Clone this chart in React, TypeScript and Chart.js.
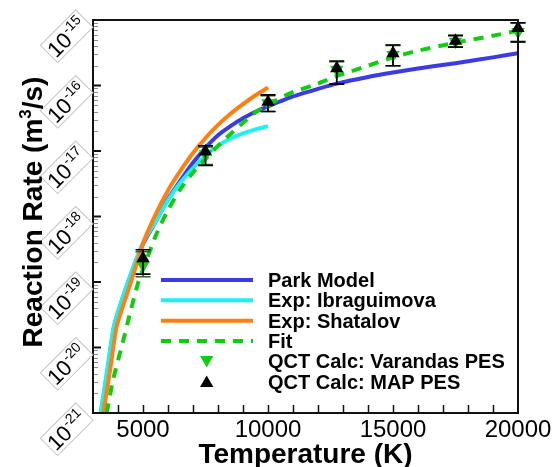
import React, { useEffect, useRef } from 'react';
import { Chart, registerables } from 'chart.js';

Chart.register(...registerables);

// ---------------- data ----------------
const parkT = [3320, 3620, 3850, 4400, 5000, 5500, 6000, 6500, 7000, 7500, 8000, 8500, 9000, 9500, 10000, 11000, 12000, 12750, 14000, 15000, 16000, 17500, 19000, 20000];
const parkK = [1.0e-21, 5.5e-21, 2.1e-20, 9.8e-20, 3.8e-19, 8.3e-19, 1.86e-18, 3.55e-18, 6.6e-18, 1.12e-17, 1.74e-17, 2.4e-17, 3.16e-17, 3.98e-17, 4.8e-17, 6.8e-17, 8.9e-17, 1.07e-16, 1.35e-16, 1.58e-16, 1.82e-16, 2.19e-16, 2.69e-16, 3.1e-16];

const ibraT = [3300, 3600, 3830, 4400, 5000, 5500, 6000, 6500, 7000, 7500, 8000, 8500, 9000, 9500, 10000];
const ibraK = [1.0e-21, 5.5e-21, 2.1e-20, 1.0e-19, 4.0e-19, 8.3e-19, 1.78e-18, 3.3e-18, 5.5e-18, 8.5e-18, 1.2e-17, 1.55e-17, 1.86e-17, 2.14e-17, 2.4e-17];

const shatT = [3413, 3700, 3947, 4500, 5013, 5500, 6000, 6500, 7000, 7500, 8000, 8500, 9000, 9500, 10000];
const shatK = [1.0e-21, 5.0e-21, 2.1e-20, 9.5e-20, 4.0e-19, 1.07e-18, 2.5e-18, 5.0e-18, 9.3e-18, 1.58e-17, 2.5e-17, 3.7e-17, 5.2e-17, 7.1e-17, 9.3e-17];

const fitT = [3547, 3800, 4213, 4500, 4813, 5000, 5547, 6000, 6500, 7000, 7500, 8000, 8500, 9000, 9500, 10000, 10880, 12000, 12880, 14000, 15000, 16000, 17500, 19000, 20000];
const fitK = [1.0e-21, 3.2e-21, 1.29e-20, 3.55e-20, 1.0e-19, 1.58e-19, 5.5e-19, 1.26e-18, 2.63e-18, 4.7e-18, 7.6e-18, 1.2e-17, 1.82e-17, 2.7e-17, 3.9e-17, 5.1e-17, 7.6e-17, 1.07e-16, 1.45e-16, 2.0e-16, 2.7e-16, 3.4e-16, 4.5e-16, 5.75e-16, 6.9e-16];

const qctT = [5000, 7500, 10000, 12750, 15000, 17500, 20000];
const varandasK = [1.8e-19, 9.0e-18, 5.4e-17, 1.75e-16, 2.95e-16, 4.7e-16, 6.6e-16];
const varandasLow = [1.2e-19, 6.2e-18, 4.0e-17, 1.05e-16, 2.0e-16, 3.9e-16, 4.6e-16];
const varandasHigh = [2.9e-19, 1.15e-17, 7.0e-17, 2.3e-16, 4.1e-16, 5.9e-16, 9.0e-16];
const mapK = [2.3e-19, 9.8e-18, 5.6e-17, 1.83e-16, 3.1e-16, 4.8e-16, 7.5e-16];
const mapLow = [1.32e-19, 6.0e-18, 4.0e-17, 1.05e-16, 2.0e-16, 3.83e-16, 4.67e-16];
const mapHigh = [3.1e-19, 1.2e-17, 7.2e-17, 2.37e-16, 4.15e-16, 5.75e-16, 9.1e-16];

const xTickValues = [5000, 10000, 15000, 20000];
const xTickLabels = ['5000', '10000', '15000', '20000'];
const yDecadeExponents = [-21, -20, -19, -18, -17, -16, -15];
const yTickExpLabels = ['-21', '-20', '-19', '-18', '-17', '-16', '-15'];

const seriesLabels = ['Park Model', 'Exp: Ibraguimova', 'Exp: Shatalov', 'Fit', 'QCT Calc: Varandas PES', 'QCT Calc: MAP PES'];

const FONT = "'Liberation Sans', Arial, Helvetica, sans-serif";

const zip = (xs: number[], ys: number[]) => xs.map((x, i) => ({ x, y: ys[i] }));

function drawTriangle(ctx: CanvasRenderingContext2D, x: number, y: number, r: number, down: boolean, color: string) {
  const s = down ? -1 : 1;
  ctx.beginPath();
  ctx.moveTo(x, y - s * r);
  ctx.lineTo(x + r * 0.866, y + s * r / 2);
  ctx.lineTo(x - r * 0.866, y + s * r / 2);
  ctx.closePath();
  ctx.fillStyle = color;
  ctx.fill();
}

const errorBarPlugin = {
  id: 'errorBars',
  afterDatasetDraw(chart: any, args: any) {
    const ds = chart.data.datasets[args.index];
    if (!ds.errLow) return;
    const ctx = chart.ctx as CanvasRenderingContext2D;
    const xs = chart.scales.x;
    const ys = chart.scales.y;
    ctx.save();
    ctx.strokeStyle = ds.errColor;
    ctx.lineWidth = 1.6;
    ds.data.forEach((p: any, i: number) => {
      const px = xs.getPixelForValue(p.x);
      const y1 = ys.getPixelForValue(ds.errHigh[i]);
      const y2 = ys.getPixelForValue(ds.errLow[i]);
      ctx.beginPath();
      ctx.moveTo(px, y1);
      ctx.lineTo(px, y2);
      ctx.moveTo(px - 7.5, y1);
      ctx.lineTo(px + 7.5, y1);
      ctx.moveTo(px - 7.5, y2);
      ctx.lineTo(px + 7.5, y2);
      ctx.stroke();
    });
    ctx.restore();
  },
};

const axesPlugin = {
  id: 'customAxes',
  afterDraw(chart: any) {
    const ctx = chart.ctx as CanvasRenderingContext2D;
    const { left, top, right, bottom } = chart.chartArea;
    const xs = chart.scales.x;
    const ys = chart.scales.y;
    ctx.save();

    // x ticks (inward)
    ctx.strokeStyle = '#111';
    ctx.lineWidth = 1.5;
    for (let t = xs.min + 1000; t < xs.max; t += 1000) {
      const px = Math.round(xs.getPixelForValue(t)) + 0.5;
      ctx.beginPath();
      ctx.moveTo(px, bottom);
      ctx.lineTo(px, bottom - 8);
      ctx.stroke();
    }
    // y ticks
    yDecadeExponents.forEach((e, idx) => {
      const py = ys.getPixelForValue(Math.pow(10, e));
      ctx.strokeStyle = '#111';
      ctx.lineWidth = 2;
      ctx.beginPath();
      ctx.moveTo(left, py);
      ctx.lineTo(left + 8, py);
      ctx.stroke();
      if (idx < yDecadeExponents.length - 1) {
        ctx.strokeStyle = '#8a8a8a';
        ctx.lineWidth = 1;
        for (let m = 2; m <= 9; m++) {
          const my = Math.round(ys.getPixelForValue(m * Math.pow(10, e))) + 0.5;
          ctx.beginPath();
          ctx.moveTo(left, my);
          ctx.lineTo(left + 5, my);
          ctx.stroke();
        }
      }
    });

    // frame
    ctx.strokeStyle = '#111';
    ctx.lineWidth = 2;
    ctx.strokeRect(left, top, right - left, bottom - top);

    // x tick labels
    ctx.fillStyle = '#000';
    ctx.font = `24px ${FONT}`;
    ctx.textAlign = 'center';
    ctx.textBaseline = 'alphabetic';
    xTickValues.forEach((v, i) => {
      ctx.fillText(xTickLabels[i], xs.getPixelForValue(v), bottom + 24);
    });

    // y tick labels (rotated, boxed)
    yDecadeExponents.forEach((e, i) => {
      const py = ys.getPixelForValue(Math.pow(10, e));
      ctx.save();
      ctx.translate(left - 26.3, py + 16.3);
      ctx.rotate(-Math.PI / 4);
      ctx.strokeStyle = '#c4c4c4';
      ctx.lineWidth = 1;
      ctx.strokeRect(-25, -12.25, 50, 24.5);
      ctx.fillStyle = '#000';
      ctx.textAlign = 'left';
      ctx.font = `22px ${FONT}`;
      const w1 = ctx.measureText('10').width;
      ctx.font = `14px ${FONT}`;
      const w2 = ctx.measureText(yTickExpLabels[i]).width;
      const x0 = -(w1 + w2) / 2 - 1;
      ctx.font = `22px ${FONT}`;
      ctx.fillText('10', x0, 8.5);
      ctx.font = `14px ${FONT}`;
      ctx.fillText(yTickExpLabels[i], x0 + w1 + 0.5, -0.5);
      ctx.restore();
    });

    // axis titles
    ctx.fillStyle = '#000';
    ctx.font = `bold 28px ${FONT}`;
    ctx.textAlign = 'center';
    ctx.fillText('Temperature (K)', (left + right) / 2, 463);

    ctx.save();
    ctx.translate(42, 212);
    ctx.rotate(-Math.PI / 2);
    ctx.textAlign = 'left';
    ctx.font = `bold 28px ${FONT}`;
    const a = 'Reaction Rate (m';
    const c = '/s)';
    const wa = ctx.measureText(a).width;
    const wc = ctx.measureText(c).width;
    ctx.font = `bold 17px ${FONT}`;
    const wb = ctx.measureText('3').width;
    const sx = -(wa + wb + wc) / 2;
    ctx.font = `bold 28px ${FONT}`;
    ctx.fillText(a, sx, 0);
    ctx.fillText(c, sx + wa + wb, 0);
    ctx.font = `bold 17px ${FONT}`;
    ctx.fillText('3', sx + wa, -11);
    ctx.restore();

    // legend
    const rowY0 = 280;
    const step = 20.35;
    chart.data.datasets.forEach((ds: any, i: number) => {
      const ry = rowY0 + i * step;
      if (ds.showLine) {
        ctx.save();
        ctx.strokeStyle = ds.borderColor;
        ctx.lineWidth = ds.borderWidth;
        ctx.setLineDash(ds.borderDash || []);
        ctx.beginPath();
        ctx.moveTo(161, ry);
        ctx.lineTo(253, ry);
        ctx.stroke();
        ctx.restore();
      } else {
        drawTriangle(ctx, 206.7, ry + (ds.rotation ? -1.5 : 1.5), 7.7, !!ds.rotation, ds.backgroundColor);
      }
      ctx.fillStyle = '#000';
      ctx.font = `bold 20px ${FONT}`;
      ctx.textAlign = 'left';
      ctx.fillText(ds.label, 268, ry + 7);
    });

    ctx.restore();
  },
};

export default function App() {
  const ref = useRef<HTMLCanvasElement | null>(null);

  useEffect(() => {
    if (!ref.current) return;
    const lineDs = (label: string, xs: number[], ys: number[], color: string, order: number, dash?: number[]) => ({
      label,
      data: zip(xs, ys),
      showLine: true,
      borderColor: color,
      backgroundColor: color,
      borderWidth: 4,
      borderDash: dash,
      pointRadius: 0,
      tension: 0.2,
      order,
    });
    const chart = new Chart(ref.current, {
      type: 'scatter',
      data: {
        datasets: [
          lineDs(seriesLabels[0], parkT, parkK, '#3b3be6', 5),
          lineDs(seriesLabels[1], ibraT, ibraK, '#1ff0f0', 4),
          lineDs(seriesLabels[2], shatT, shatK, '#ff8010', 3),
          lineDs(seriesLabels[3], fitT, fitK, '#12cc12', 2, [10, 8]),
          {
            label: seriesLabels[4],
            data: zip(qctT, varandasK),
            showLine: false,
            pointStyle: 'triangle',
            rotation: 180,
            pointRadius: 7.7,
            backgroundColor: '#12cc12',
            borderColor: '#12cc12',
            borderWidth: 0,
            clip: false,
            order: 1,
            errLow: varandasLow,
            errHigh: varandasHigh,
            errColor: '#2a5e2a',
          } as any,
          {
            label: seriesLabels[5],
            data: zip(qctT, mapK),
            showLine: false,
            pointStyle: 'triangle',
            rotation: 0,
            pointRadius: 7.7,
            backgroundColor: '#000',
            borderColor: '#000',
            borderWidth: 0,
            clip: false,
            order: 0,
            errLow: mapLow,
            errHigh: mapHigh,
            errColor: '#000',
          } as any,
        ],
      },
      options: {
        animation: false,
        responsive: false,
        maintainAspectRatio: false,
        layout: { padding: { left: 93, top: 20, right: 38, bottom: 54 } },
        plugins: { legend: { display: false }, tooltip: { enabled: false } },
        scales: {
          x: { type: 'linear', min: 3000, max: 20000, display: false },
          y: { type: 'logarithmic', min: 1e-21, max: 1e-15, display: false },
        },
      },
      plugins: [errorBarPlugin, axesPlugin],
    });
    return () => chart.destroy();
  }, []);

  return (
    <div style={{ position: 'fixed', left: 0, top: 0, width: 556, height: 467, background: '#fff' }}>
      <canvas ref={ref} width={556} height={467} style={{ width: 556, height: 467, display: 'block' }} />
    </div>
  );
}
